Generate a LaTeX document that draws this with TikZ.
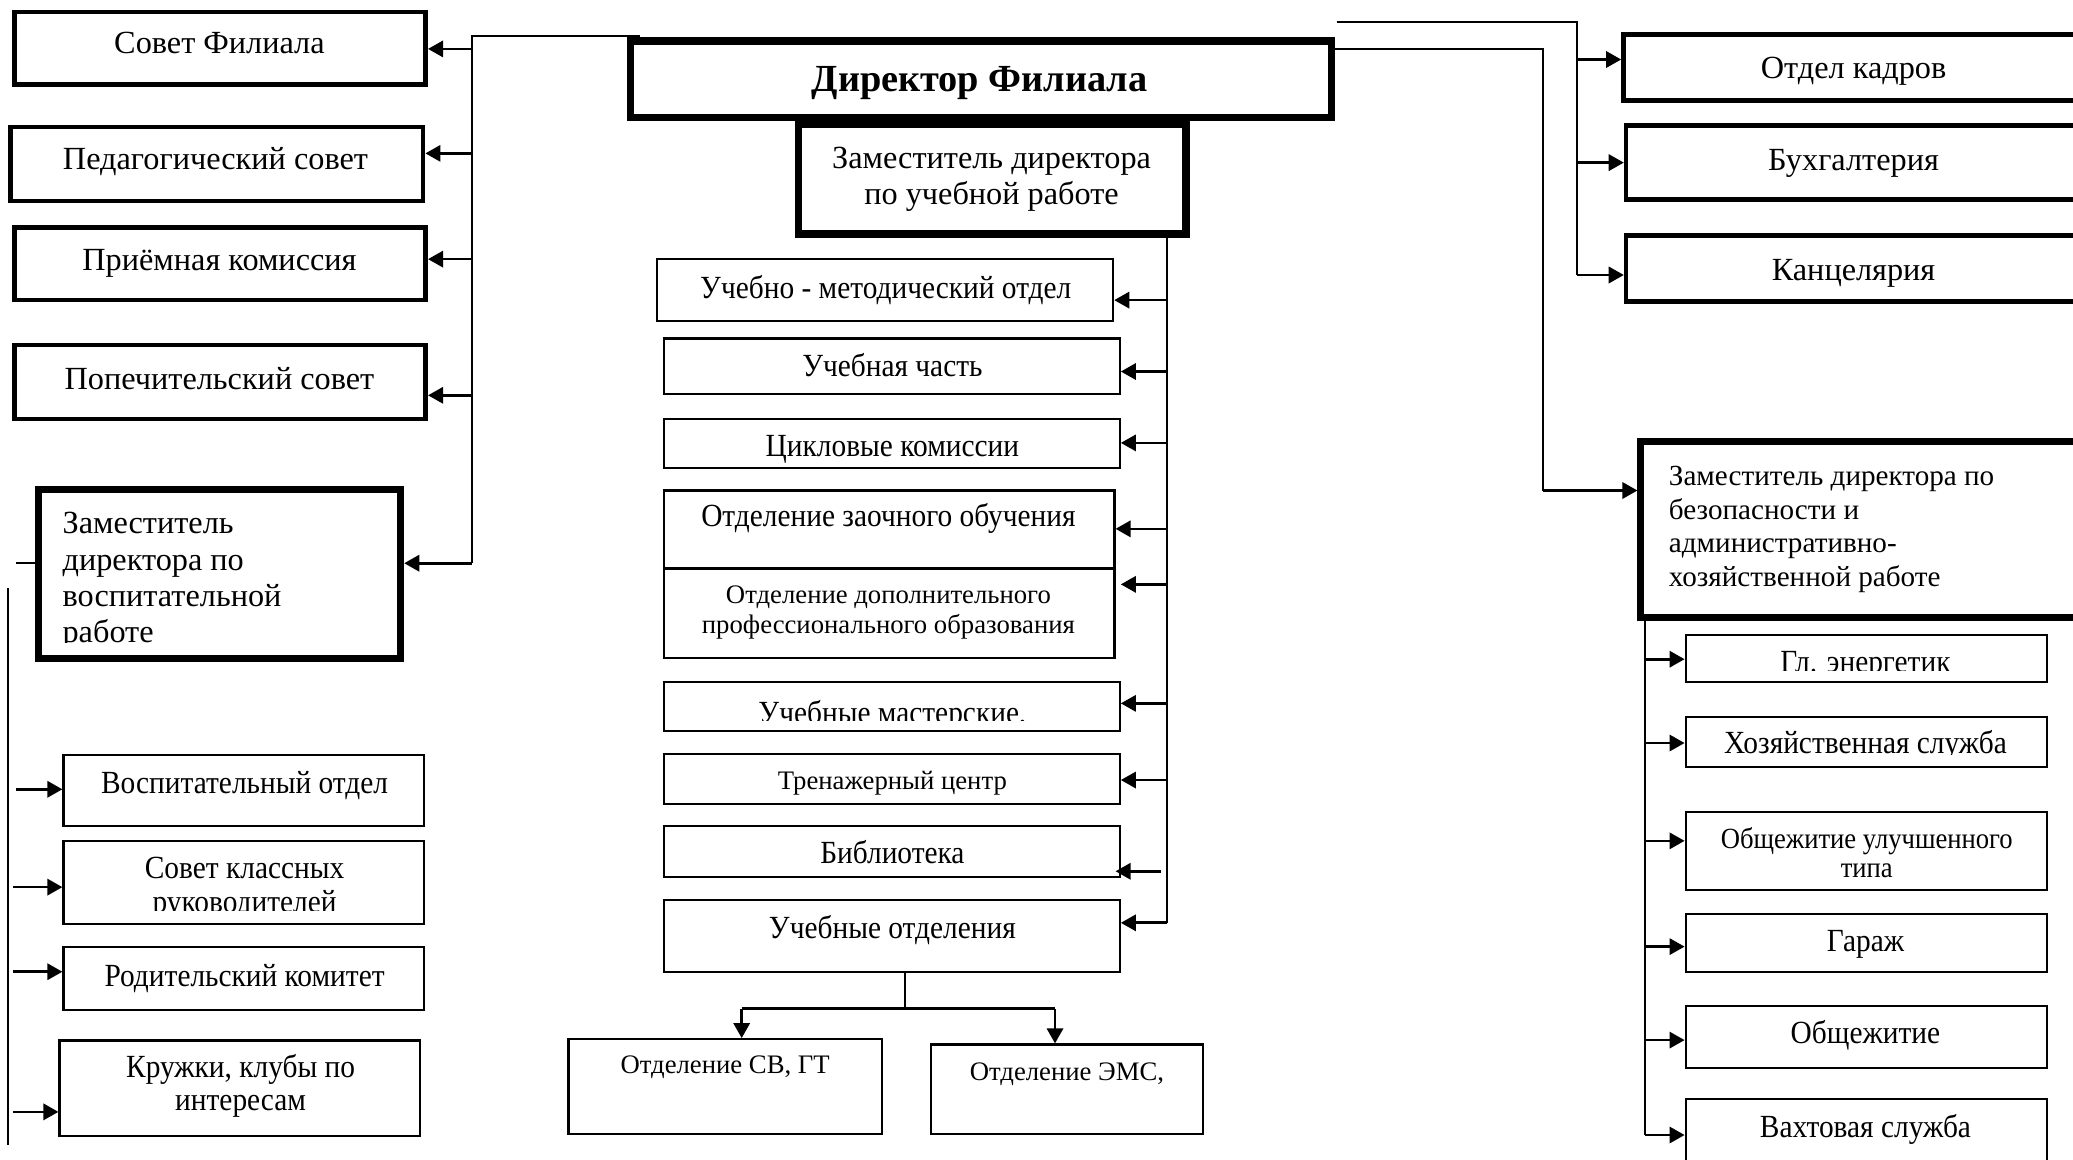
\documentclass[tikz,border=0pt]{standalone}
\usepackage{fontspec}
\setmainfont{Liberation Serif}
\newfontfamily\nfont[FakeStretch=0.91]{Liberation Serif}
\usetikzlibrary{arrows.meta}
\newcommand{\mkbox}[6][]{\node[#1, minimum width={(#4-#2)*0.02cm}, minimum height={(#5-#3)*0.02cm}] (#6) at ({(#2+#4)/2},{(#3+#5)/2}) {};}
\tikzset{
  tk/.style={draw, line width=2pt, inner sep=0pt},
  vtk/.style={draw, line width=3.1pt, inner sep=0pt},
  tn/.style={draw, line width=0.9pt, inner sep=0pt},
  txt/.style={inner sep=0pt, anchor=base, font=\fontsize{13.9}{15.8}\selectfont},
  ntxt/.style={inner sep=0pt, anchor=base, font=\nfont\fontsize{13.9}{15.8}\selectfont},
  sm/.style={inner sep=0pt, anchor=base, font=\fontsize{11.5}{13}\selectfont},
  trunk/.style={line width=0.85pt},
  arr/.style={line width=1.15pt, -{Triangle[length=6.5pt,width=7pt]}}
}
\begin{document}
\begin{tikzpicture}[x=0.02cm,y=-0.02cm]
\clip (0,0) rectangle (1568,877);
\fill[white] (0,0) rectangle (1568,877);
% ---------- left column ----------
\mkbox[tk]{11}{9}{322}{64}{sovet}
\node[txt] (sovett) at (166,40.5) {Совет Филиала};
\mkbox[tk]{8}{96}{320}{152}{ped}
\node[txt] (pedt) at (163,128.5) {Педагогический совет};
\mkbox[tk]{11}{172}{322}{227}{priem}
\node[txt] (priemt) at (166,204.5) {Приёмная комиссия};
\mkbox[tk]{11}{261}{322}{317}{popech}
\node[txt] (popecht) at (166,294.5) {Попечительский совет};
\mkbox[vtk]{29}{370}{303}{498}{zamvosp}
\begin{scope}
\clip (31,372) rectangle (301,486);
\node[txt, align=left, anchor=base west, font=\fontsize{13.9}{15.6}\selectfont] (zamvospt) at (47,486) {Заместитель\\директора по\\воспитательной\\работе};
\end{scope}
% lower left
\mkbox[tn]{48}{571}{321}{625}{vospotd}
\node[ntxt] (vospotdt) at (185,600.5) {Воспитательный отдел};
\mkbox[tn]{48}{636}{321}{699}{sovkl}
\begin{scope}
\clip (49,637) rectangle (320,689);
\node[ntxt, align=center, font=\nfont\fontsize{13.9}{14.7}\selectfont] (sovklt) at (185,690.5) {Совет классных\\руководителей};
\end{scope}
\mkbox[tn]{48}{716}{321}{764}{rodkom}
\node[ntxt] (rodkomt) at (185,746.5) {Родительский комитет};
\mkbox[tn]{45}{787}{318}{859}{kruzh}
\node[ntxt, align=center, font=\nfont\fontsize{13.9}{14.2}\selectfont] (kruzht) at (182,839.6) {Кружки, клубы по\\интересам};
% ---------- middle column ----------
\mkbox[vtk]{477}{31}{1007}{89}{dir}
\node[inner sep=0pt, anchor=base, font=\fontsize{16.5}{18}\selectfont\bfseries] (dirt) at (741,69.5) {Директор Филиала};
\mkbox[vtk]{604}{94}{897}{177}{zamuch}
\node[txt, align=center, font=\fontsize{13.9}{15.7}\selectfont] (zamucht) at (750,155) {Заместитель директора\\по учебной работе};
\mkbox[tn]{497}{196}{842}{243}{umo}
\node[ntxt] (umot) at (670,225.5) {Учебно - методический отдел};
\mkbox[tn]{502}{256}{847}{298}{uchch}
\node[ntxt] (uchcht) at (675,284.5) {Учебная часть};
\mkbox[tn]{502}{317}{847}{354}{cikl}
\node[ntxt] (ciklt) at (675,345.5) {Цикловые комиссии};
\mkbox[tn]{502}{371}{843}{430}{zaoch}
\node[ntxt] (zaocht) at (672,398.6) {Отделение заочного обучения};
\mkbox[tn]{502}{430}{843}{498}{dpo}
\node[sm, align=center, font=\fontsize{11.5}{12.8}\selectfont] (dpot) at (672,479) {Отделение дополнительного\\профессионального образования};
\mkbox[tn]{502}{516}{847}{553}{mast}
\begin{scope}
\clip (503,517) rectangle (846,545);
\node[ntxt] (mastt) at (675,547) {Учебные мастерские,};
\end{scope}
\mkbox[tn]{502}{570}{847}{608}{tren}
\node[sm] (trent) at (675,597) {Тренажерный центр};
\mkbox[tn]{502}{625}{847}{663}{bibl}
\node[ntxt] (biblt) at (675,653) {Библиотека};
\mkbox[tn]{502}{681}{847}{735}{uchotd}
\node[ntxt] (uchotdt) at (675,709.5) {Учебные отделения};
\mkbox[tn]{430}{786}{667}{858}{svgt}
\node[sm] (svgtt) at (548.5,812) {Отделение СВ, ГТ};
\mkbox[tn]{704}{790}{910}{858}{ems}
\node[sm] (emst) at (807,817.6) {Отделение ЭМС,};
% ---------- right column ----------
\mkbox[tk]{1228}{26}{1576}{76}{otdk}
\node[txt] (otdkt) at (1402,59) {Отдел кадров};
\mkbox[tk]{1230}{95}{1576}{151}{buh}
\node[txt] (buht) at (1402,128.6) {Бухгалтерия};
\mkbox[tk]{1230}{178}{1576}{228}{kanc}
\node[txt] (kanct) at (1402,212) {Канцелярия};
\mkbox[draw, line width=2.8pt, inner sep=0pt]{1241}{334}{1580}{467}{zambez}
\node[txt, align=left, anchor=base west, font=\fontsize{12.55}{14.5}\selectfont] (zambezt) at (1262,443.7) {Заместитель директора по\\безопасности и\\административно-\\хозяйственной работе};
\mkbox[tn]{1275}{480}{1548}{516}{energ}
\begin{scope}
\clip (1276,481) rectangle (1547,507.5);
\node[ntxt] (energt) at (1411,509) {Гл. энергетик};
\end{scope}
\mkbox[tn]{1275}{542}{1548}{580}{hoz}
\begin{scope}
\clip (1276,543) rectangle (1547,571);
\node[ntxt] (hozt) at (1411,570) {Хозяйственная служба};
\end{scope}
\mkbox[tn]{1275}{614}{1548}{673}{obul}
\node[ntxt, align=center, font=\nfont\fontsize{12.6}{12.8}\selectfont] (obult) at (1412,664) {Общежитие улучшенного\\типа};
\mkbox[tn]{1275}{691}{1548}{735}{garazh}
\node[ntxt] (garazht) at (1411,720) {Гараж};
\mkbox[tn]{1275}{761}{1548}{808}{obsh}
\node[ntxt] (obsht) at (1411,789) {Общежитие};
\mkbox[tn]{1275}{831}{1548}{892}{vaht}
\node[ntxt] (vahtt) at (1411,860) {Вахтовая служба};
% ---------- connectors: left ----------
\coordinate (dtl) at (484,27);
\coordinate (lt0) at (357,27);
\coordinate (lt5) at (357,426);
\coordinate (l1) at (357,37);
\coordinate (l2) at (357,116);
\coordinate (l3) at (357,196);
\coordinate (l4) at (357,299);
\draw[trunk] (dtl) -- (lt0) -- (lt5);
\draw[arr] (lt5) -- (lt5 -| zamvosp.east);
\draw[arr] (l1) -- (l1 -| sovet.east);
\draw[arr] (l2) -- (l2 -| ped.east);
\draw[arr] (l3) -- (l3 -| priem.east);
\draw[arr] (l4) -- (l4 -| popech.east);
\coordinate (s0) at (12,426);
\draw[trunk] (s0) -- (s0 -| zamvosp.west);
\coordinate (lb0) at (6,445);
\coordinate (lb1) at (6,866);
\draw[trunk] (lb0) -- (lb1);
\coordinate (a1) at (12,597);
\coordinate (a2) at (10,671);
\coordinate (a3) at (10,735);
\coordinate (a4) at (10,841);
\draw[arr] (a1) -- (a1 -| vospotd.west);
\draw[arr] (a2) -- (a2 -| sovkl.west);
\draw[arr] (a3) -- (a3 -| rodkom.west);
\draw[arr] (a4) -- (a4 -| kruzh.west);
% ---------- connectors: middle ----------
\coordinate (m0) at (883,176);
\coordinate (m9) at (883,698);
\draw[trunk] (m0) -- (m9);
\draw[arr] (m9) -- (m9 -| uchotd.east);
\coordinate (m1) at (883,227);
\coordinate (m2) at (883,281);
\coordinate (m3) at (883,335);
\coordinate (m4) at (883,400);
\coordinate (m5) at (883,442);
\coordinate (m6) at (883,532);
\coordinate (m7) at (883,590);
\draw[arr] (m1) -- (m1 -| umo.east);
\draw[arr] (m2) -- (m2 -| uchch.east);
\draw[arr] (m3) -- (m3 -| cikl.east);
\draw[arr] (m4) -- (m4 -| zaoch.east);
\draw[arr] (m5) -- ([xshift=0.08cm]m5 -| dpo.east);
\draw[arr] (m6) -- (m6 -| mast.east);
\draw[arr] (m7) -- (m7 -| tren.east);
\coordinate (bs) at (878,659);
\draw[arr] (bs) -- ([xshift=-0.08cm]bs -| bibl.east);
\coordinate (st) at (684.5,763);
\coordinate (hl) at (561,763);
\coordinate (hr) at (798,763);
\draw[trunk] (uchotd.south -| st) -- (st);
\draw[line width=1.3pt] (hl) -- (hr);
\draw[arr] (hl) -- (hl |- svgt.north);
\draw[arr] (hr) -- (hr |- ems.north);
% ---------- connectors: right ----------
\coordinate (dtr) at (1011,17);
\coordinate (rt1) at (1193,17);
\coordinate (rt2) at (1193,208);
\coordinate (r1) at (1193,45);
\coordinate (r2a) at (1193,123);
\draw[trunk] (dtr) -- (rt1) -- (rt2);
\draw[arr] (r1) -- (r1 -| otdk.west);
\draw[arr] (r2a) -- (r2a -| buh.west);
\draw[arr] (rt2) -- (rt2 -| kanc.west);
\coordinate (q1) at (1167,37);
\coordinate (q2) at (1167,371);
\draw[trunk] (q1 -| dir.east) -- (q1) -- (q2);
\draw[arr] (q2) -- (q2 -| zambez.west);
\coordinate (rb0) at (1244,467);
\coordinate (rb6) at (1244,858.5);
\draw[trunk] (rb0) -- (rb6);
\coordinate (b1) at (1244,498.6);
\coordinate (b2) at (1244,562);
\coordinate (b3) at (1244,636);
\coordinate (b4) at (1244,716);
\coordinate (b5) at (1244,786.7);
\draw[arr] (b1) -- (b1 -| energ.west);
\draw[arr] (b2) -- (b2 -| hoz.west);
\draw[arr] (b3) -- (b3 -| obul.west);
\draw[arr] (b4) -- (b4 -| garazh.west);
\draw[arr] (b5) -- (b5 -| obsh.west);
\draw[arr] (rb6) -- (rb6 -| vaht.west);
\end{tikzpicture}
\end{document}
